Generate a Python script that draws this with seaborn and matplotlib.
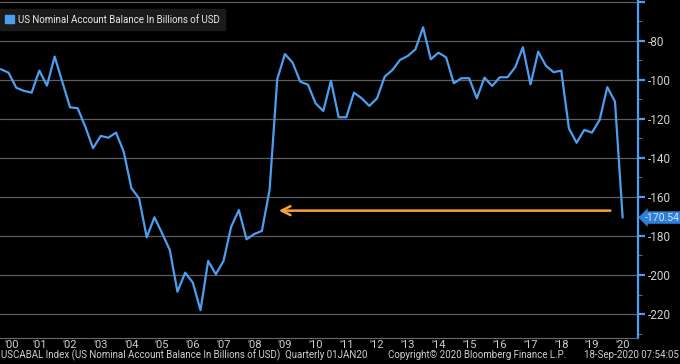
import numpy as np
import pandas as pd
import matplotlib
matplotlib.use('Agg')
import matplotlib.pyplot as plt
import matplotlib.patches as mpatches
import seaborn as sns

# Quarterly US current account balance, 2000Q1 .. 2020Q2
quarters = pd.period_range('2000Q1', '2020Q2', freq='Q')
balance = [-94.5, -96.3, -104.0, -105.6, -106.5, -95.2, -102.9, -88.0,
           -101.0, -114.0, -114.5, -124.0, -135.0, -128.7, -129.6, -127.0,
           -136.8, -155.5, -160.7, -180.7, -170.4, -178.6, -187.2, -208.6,
           -198.8, -203.9, -218.0, -192.8, -199.6, -192.8, -175.2, -166.7,
           -181.7, -179.0, -177.4, -156.4, -99.6, -86.7, -91.1, -100.9,
           -102.4, -112.0, -115.9, -100.4, -119.1, -119.1, -106.5, -109.4,
           -113.3, -109.4, -98.3, -94.9, -89.7, -87.7, -84.3, -73.0,
           -89.4, -86.0, -88.4, -101.7, -99.1, -99.1, -109.4, -98.8,
           -103.1, -98.6, -98.6, -93.5, -83.2, -102.3, -85.5, -92.7,
           -96.0, -95.2, -124.8, -132.2, -125.6, -127.0, -120.5, -103.7,
           -111.1, -170.54]
year_labels = ["'%02d" % (y % 100) for y in range(2000, 2021)]
y_ticks = [-60, -80, -100, -120, -140, -160, -180, -200, -220]
arrow_from = 2020.19
arrow_to = 2009.21
arrow_level = -167

legend_text = 'US Nominal Account Balance In Billions of USD'
footer_left = 'USCABAL Index (US Nominal Account Balance In Billions of USD)  Quarterly 01JAN20'
footer_mid = 'Copyright\u00a9 2020 Bloomberg Finance L.P.'
footer_right = '18-Sep-2020 07:54:05'

BLUE = '#4c9ef0'
ORANGE = '#f5a23a'
TXT = '#cfcfcf'

df = pd.DataFrame({'t': [q.year + q.quarter * 0.25 for q in quarters],
                   'value': balance})

sns.set_theme(style='dark')
plt.rcParams['font.family'] = ['Roboto', 'DejaVu Sans']

fig = plt.figure(figsize=(6.8, 3.64), dpi=100, facecolor='black')
ax = fig.add_axes([0.0, 26 / 364, 638 / 680, 338 / 364])
ax.set_facecolor('black')

sns.lineplot(data=df, x='t', y='value', ax=ax, color=BLUE, linewidth=1.6,
             label=legend_text)

ax.set_xlim(2000.22, 2021.0)
ax.set_ylim(-232.3, -59.0)

# horizontal grid
for v in y_ticks:
    ax.axhline(v, color='#5e5e5e', lw=0.9, zorder=0)
ax.grid(False)

# right axis
ax.yaxis.tick_right()
ax.set_yticks(y_ticks)
ax.set_yticklabels([''] + [str(v) for v in y_ticks[1:]])
ax.set_yticks(np.arange(-230, -59, 20), minor=True)
ax.tick_params(axis='y', which='major', direction='out', length=5, width=1.6,
               color=BLUE, labelcolor=TXT, labelsize=8.5, pad=2)
ax.tick_params(axis='y', which='minor', direction='out', length=3, width=0.8,
               color='#3a6fa8')

# bottom axis: separators at year starts, labels centered in each year
ax.set_xticks(list(range(2001, 2022)))
ax.set_xticklabels([])
centers = [(2000.22 + 2001) / 2] + [y + 0.5 for y in range(2001, 2021)]
ax.set_xticks(centers, minor=True)
ax.set_xticklabels(year_labels, minor=True)
ax.tick_params(axis='x', which='major', direction='out', length=9, width=0.8,
               color='#9a9a9a')
ax.tick_params(axis='x', which='minor', length=0, labelcolor=TXT,
               labelsize=8, pad=1.5)

for side in ['left', 'top']:
    ax.spines[side].set_visible(False)
ax.spines['right'].set_color(BLUE)
ax.spines['right'].set_linewidth(1.6)
ax.spines['bottom'].set_color('#6a6a6a')
ax.spines['bottom'].set_linewidth(0.8)
ax.set_xlabel('')
ax.set_ylabel('')

# last value tag
last = balance[-1]
ax.annotate('%.2f' % last, xy=(1.0, last),
            xycoords=('axes fraction', 'data'),
            xytext=(5, 0), textcoords='offset points',
            ha='left', va='center', fontsize=7.5, color='#cfe6ff',
            bbox=dict(boxstyle='larrow,pad=0.12', fc='#2f7fd6', ec='none'),
            annotation_clip=False)

# orange arrow
ax.annotate('', xy=(arrow_to, arrow_level), xytext=(arrow_from, arrow_level),
            arrowprops=dict(arrowstyle='->', color=ORANGE, lw=1.8,
                            mutation_scale=16))

# legend
handle = mpatches.Patch(color=BLUE)
leg = ax.legend([handle], [legend_text], loc='upper left',
                bbox_to_anchor=(0.0, 0.972), borderaxespad=0,
                frameon=True, fancybox=False, facecolor='#1b1b1b',
                edgecolor='#1b1b1b', framealpha=1, fontsize=7,
                handlelength=0.9, handleheight=0.9, handletextpad=0.35,
                borderpad=0.55)
for t in leg.get_texts():
    t.set_color('#e8e8e8')

# footer
fy = 1 - 355 / 364
fig.text(0.001, fy, footer_left, color=TXT, fontsize=7, ha='left', va='center')
fig.text(388 / 680, fy, footer_mid, color=TXT, fontsize=7, ha='left', va='center')
fig.text(0.998, fy, footer_right, color=TXT, fontsize=7, ha='right', va='center')

fig.savefig('out.png', dpi=100, facecolor='black')
plt.close(fig)
